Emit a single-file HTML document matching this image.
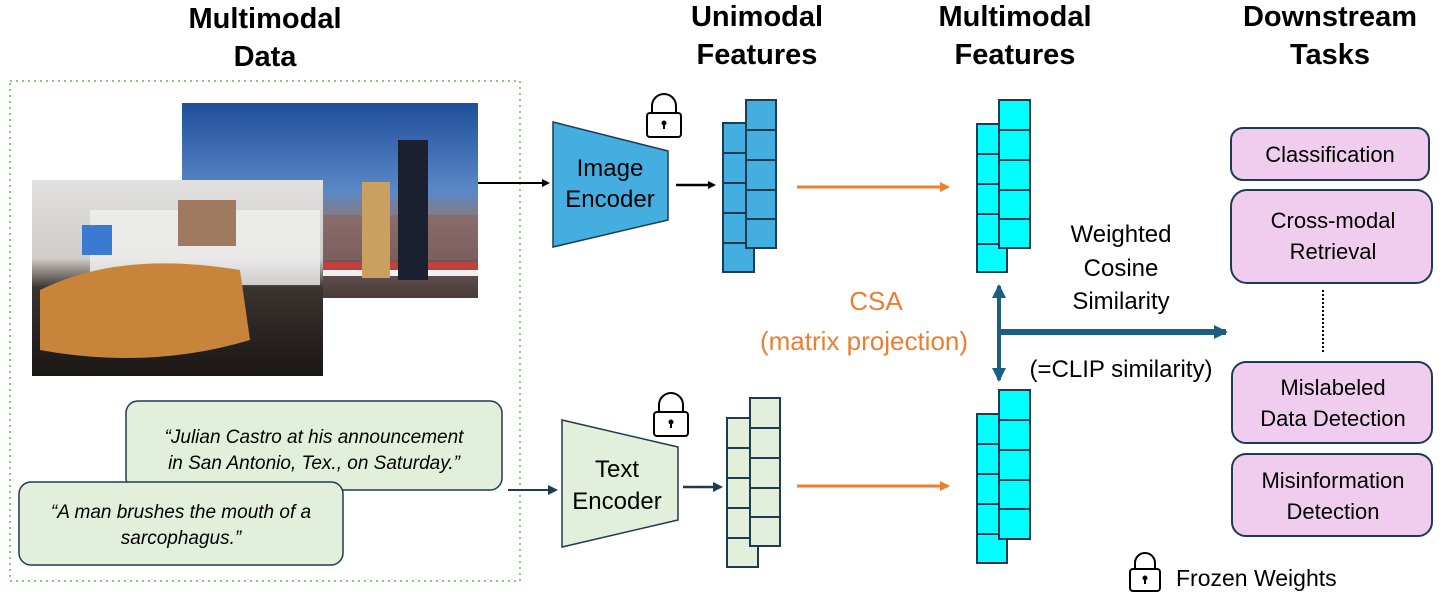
<!DOCTYPE html>
<html><head><meta charset="utf-8"><style>
html,body{margin:0;padding:0;background:#fff;}
svg{display:block;font-family:"Liberation Sans",sans-serif;}
</style></head><body>
<svg width="1446" height="602" viewBox="0 0 1446 602" xmlns="http://www.w3.org/2000/svg">
<defs>
<marker id="ak" markerWidth="8" markerHeight="8" refX="6" refY="4" orient="auto" markerUnits="userSpaceOnUse"><path d="M0,0 L8,4 L0,8 z" fill="#000"/></marker>
<marker id="ad" markerWidth="10" markerHeight="10" refX="8" refY="5" orient="auto" markerUnits="userSpaceOnUse"><path d="M0,0 L10,5 L0,10 z" fill="#1e3b52"/></marker>
<marker id="ao" markerWidth="10" markerHeight="10" refX="8" refY="5" orient="auto" markerUnits="userSpaceOnUse"><path d="M0,0 L10,5 L0,10 z" fill="#ed7d31"/></marker>
<marker id="ab" markerWidth="14" markerHeight="14" refX="12" refY="7" orient="auto" markerUnits="userSpaceOnUse"><path d="M0,0 L14,7 L0,14 z" fill="#1b5e80"/></marker>
<linearGradient id="sky" x1="0" y1="0" x2="0" y2="1"><stop offset="0" stop-color="#1f4f9a"/><stop offset="0.45" stop-color="#5a88c8"/><stop offset="0.6" stop-color="#8a7a7a"/><stop offset="1" stop-color="#4a3a3a"/></linearGradient>
<linearGradient id="ph2" x1="0" y1="0" x2="0" y2="1"><stop offset="0" stop-color="#e0e0e0"/><stop offset="0.4" stop-color="#d0ccc8"/><stop offset="0.55" stop-color="#3a3430"/><stop offset="1" stop-color="#1a1614"/></linearGradient>
</defs>

<g font-weight="bold" font-size="29" text-anchor="middle" fill="#000">
<text x="265" y="28">Multimodal</text><text x="265" y="66">Data</text>
<text x="757" y="26">Unimodal</text><text x="757" y="64">Features</text>
<text x="1015" y="26">Multimodal</text><text x="1015" y="64">Features</text>
<text x="1330" y="26">Downstream</text><text x="1330" y="64">Tasks</text>
</g>

<rect x="10" y="81" width="510" height="500" fill="none" stroke="#8cc97a" stroke-width="2" stroke-dasharray="2,4"/>

<rect x="182" y="103" width="296" height="195" fill="url(#sky)"/>
<rect x="182" y="215" width="296" height="45" fill="#8a6060" opacity="0.6"/>
<rect x="322" y="262" width="156" height="12" fill="#c04040"/>
<rect x="322" y="270" width="156" height="6" fill="#f0f0f0"/>
<rect x="362" y="182" width="28" height="96" fill="#c9a060"/>
<rect x="398" y="140" width="30" height="140" fill="#1a2030"/>
<rect x="32" y="180" width="291" height="196" fill="url(#ph2)"/>
<rect x="90" y="210" width="230" height="75" fill="#f0f0f0" opacity="0.8"/>
<path d="M40,290 Q120,250 240,270 L250,340 Q150,370 40,350 z" fill="#c8843a"/>
<rect x="178" y="200" width="58" height="46" fill="#a07a60"/>
<rect x="82" y="225" width="30" height="30" fill="#3a7ad0"/>

<rect x="126" y="401" width="376" height="89" rx="12" fill="#e2efda" stroke="#1e3b52" stroke-width="1.5"/>
<text x="314" y="443" font-size="19" font-style="italic" text-anchor="middle">“Julian Castro at his announcement</text>
<text x="314" y="469" font-size="19" font-style="italic" text-anchor="middle">in San Antonio, Tex., on Saturday.”</text>
<rect x="19" y="482" width="324" height="83" rx="12" fill="#e2efda" stroke="#1e3b52" stroke-width="1.5"/>
<text x="181" y="518" font-size="19" font-style="italic" text-anchor="middle">“A man brushes the mouth of a</text>
<text x="181" y="544" font-size="19" font-style="italic" text-anchor="middle">sarcophagus.”</text>

<line x1="478" y1="183" x2="548" y2="183" stroke="#000" stroke-width="2" marker-end="url(#ak)"/>
<line x1="508" y1="490" x2="556" y2="490" stroke="#1e3b52" stroke-width="2" marker-end="url(#ad)"/>

<polygon points="553,122 668,151 668,220 553,247" fill="#45aee0" stroke="#1e3b52" stroke-width="1.5"/>
<text x="610" y="176" font-size="24" text-anchor="middle">Image</text>
<text x="610" y="207" font-size="24" text-anchor="middle">Encoder</text>
<polygon points="562,420 678,447 678,520 562,547" fill="#e2efda" stroke="#1e3b52" stroke-width="1.5"/>
<text x="617" y="477" font-size="24" text-anchor="middle">Text</text>
<text x="617" y="509" font-size="24" text-anchor="middle">Encoder</text>

<g fill="none" stroke="#000" stroke-width="2">
<rect x="647" y="113" width="34" height="24" rx="3"/><path d="M652,113 v-7 a12,12 0 0 1 24,0 v7"/>
<rect x="654" y="412" width="34" height="24" rx="3"/><path d="M659,412 v-7 a12,12 0 0 1 24,0 v7"/>
<rect x="1130" y="569" width="30" height="22" rx="3"/><path d="M1135,569 v-6 a10,10 0 0 1 20,0 v6"/>
</g>
<circle cx="664" cy="123" r="2.5"/><rect x="663" y="123" width="2" height="6"/>
<circle cx="671" cy="422" r="2.5"/><rect x="670" y="422" width="2" height="6"/>
<circle cx="1145" cy="578" r="2.5"/><rect x="1144" y="578" width="2" height="6"/>
<text x="1176" y="586" font-size="23">Frozen Weights</text>

<line x1="676" y1="185" x2="714" y2="185" stroke="#000" stroke-width="2.5" marker-end="url(#ak)"/>
<line x1="683" y1="487" x2="721" y2="487" stroke="#1e3b52" stroke-width="2.5" marker-end="url(#ad)"/>

<g stroke="#1e3b52" stroke-width="2">
<g fill="#45aee0">
<rect x="723" y="123" width="31" height="30"/><rect x="723" y="153" width="31" height="30"/><rect x="723" y="183" width="31" height="30"/><rect x="723" y="213" width="31" height="30"/><rect x="723" y="243" width="31" height="29"/>
<rect x="746" y="100" width="30" height="30"/><rect x="746" y="130" width="30" height="30"/><rect x="746" y="160" width="30" height="30"/><rect x="746" y="190" width="30" height="29"/><rect x="746" y="219" width="30" height="29"/>
</g>
<g fill="#e2efda">
<rect x="727" y="418" width="31" height="30"/><rect x="727" y="448" width="31" height="30"/><rect x="727" y="478" width="31" height="30"/><rect x="727" y="508" width="31" height="30"/><rect x="727" y="538" width="31" height="29"/>
<rect x="750" y="398" width="30" height="30"/><rect x="750" y="428" width="30" height="30"/><rect x="750" y="458" width="30" height="30"/><rect x="750" y="488" width="30" height="29"/><rect x="750" y="517" width="30" height="29"/>
</g>
<g fill="#00ffff">
<rect x="977" y="124" width="30" height="30"/><rect x="977" y="154" width="30" height="30"/><rect x="977" y="184" width="30" height="30"/><rect x="977" y="214" width="30" height="30"/><rect x="977" y="244" width="30" height="28"/>
<rect x="999" y="100" width="31" height="30"/><rect x="999" y="130" width="31" height="30"/><rect x="999" y="160" width="31" height="30"/><rect x="999" y="190" width="31" height="29"/><rect x="999" y="219" width="31" height="29"/>
<rect x="977" y="414" width="30" height="30"/><rect x="977" y="444" width="30" height="30"/><rect x="977" y="474" width="30" height="30"/><rect x="977" y="504" width="30" height="30"/><rect x="977" y="534" width="30" height="29"/>
<rect x="999" y="390" width="31" height="30"/><rect x="999" y="420" width="31" height="30"/><rect x="999" y="450" width="31" height="30"/><rect x="999" y="480" width="31" height="29"/><rect x="999" y="509" width="31" height="30"/>
</g>
</g>

<line x1="797" y1="187" x2="948" y2="187" stroke="#ed7d31" stroke-width="3" marker-end="url(#ao)"/>
<line x1="797" y1="486" x2="948" y2="486" stroke="#ed7d31" stroke-width="3" marker-end="url(#ao)"/>
<text x="876" y="310" font-size="26" fill="#ed7d31" text-anchor="middle">CSA</text>
<text x="864" y="350" font-size="26" fill="#ed7d31" text-anchor="middle">(matrix projection)</text>

<line x1="999" y1="333" x2="999" y2="286" stroke="#1b5e80" stroke-width="4" marker-end="url(#ab)"/>
<line x1="999" y1="333" x2="999" y2="380" stroke="#1b5e80" stroke-width="4" marker-end="url(#ab)"/>
<line x1="997" y1="332" x2="1226" y2="332" stroke="#1b5e80" stroke-width="6" marker-end="url(#ab)"/>
<g font-size="24" text-anchor="middle">
<text x="1121" y="242">Weighted</text><text x="1121" y="276">Cosine</text><text x="1121" y="309">Similarity</text>
<text x="1121" y="377">(=CLIP similarity)</text>
</g>

<g fill="#f0cdee" stroke="#1e3b52" stroke-width="2">
<rect x="1231" y="128" width="198" height="52" rx="12"/>
<rect x="1231" y="190" width="201" height="93" rx="16"/>
<rect x="1232" y="362" width="200" height="81" rx="14"/>
<rect x="1232" y="454" width="200" height="82" rx="14"/>
</g>
<line x1="1323" y1="290" x2="1323" y2="353" stroke="#000" stroke-width="2" stroke-dasharray="2,2"/>
<g font-size="22" text-anchor="middle">
<text x="1330" y="162">Classification</text>
<text x="1333" y="228">Cross-modal</text><text x="1333" y="259">Retrieval</text>
<text x="1333" y="395">Mislabeled</text><text x="1333" y="426">Data Detection</text>
<text x="1333" y="488">Misinformation</text><text x="1333" y="519">Detection</text>
</g>
</svg>
</body></html>
